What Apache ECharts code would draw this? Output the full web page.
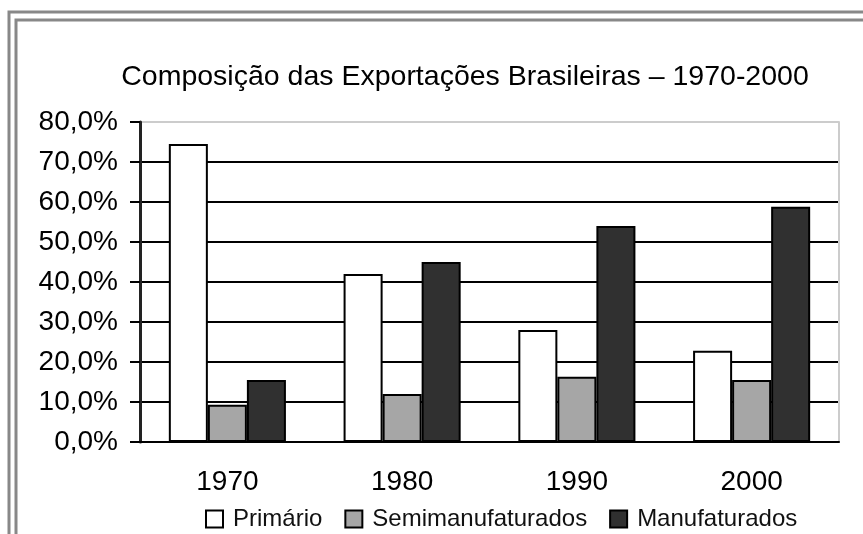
<!DOCTYPE html>
<html>
<head>
<meta charset="utf-8">
<script src="https://cdn.jsdelivr.net/npm/echarts@6/dist/echarts.min.js"></script>
<style>
html,body{margin:0;padding:0;background:#fff;}
#c{width:863px;height:534px;}
</style>
</head>
<body>
<div id="c"></div>
<script>
const categories = ['1970', '1980', '1990', '2000'];
const primario = [74.5, 42.0, 28.0, 22.8];
const semimanufaturados = [9.3, 12.0, 16.3, 15.5];
const manufaturados = [15.5, 45.0, 54.0, 58.8];
const yTicks = [0, 10, 20, 30, 40, 50, 60, 70, 80];
const titleText = 'Composição das Exportações Brasileiras – 1970-2000';

const font = '"Liberation Sans", Arial, sans-serif';
const chart = echarts.init(document.getElementById('c'), null, {renderer: 'canvas'});

const barStyle = (fill) => ({color: fill, borderColor: '#000', borderWidth: 2});

chart.setOption({
  animation: false,
  backgroundColor: '#fff',
  title: {
    text: titleText, left: 460, top: 58, textAlign: 'center',
    textStyle: {fontFamily: font, fontSize: 28.5, fontWeight: 'normal', color: '#000'}
  },
  legend: {
    top: 502, left: 200, padding: 5,
    itemWidth: 17, itemHeight: 17, itemGap: 22,
    textStyle: {fontFamily: font, fontSize: 24, color: '#111', padding: [0, 0, 0, 5]},
    data: [
      {name: 'Primário', icon: 'rect', itemStyle: {color: '#fff', borderColor: '#000', borderWidth: 2}},
      {name: 'Semimanufaturados', icon: 'rect', itemStyle: {color: '#a6a6a6', borderColor: '#000', borderWidth: 2}},
      {name: 'Manufaturados', icon: 'rect', itemStyle: {color: '#303030', borderColor: '#000', borderWidth: 2}}
    ]
  },
  grid: {left: 140, right: 24, top: 122, bottom: 92, containLabel: false},
  xAxis: {
    type: 'category', data: categories,
    axisLine: {lineStyle: {color: '#000', width: 2}},
    axisTick: {length: 7, lineStyle: {color: '#000', width: 2}},
    axisLabel: {fontFamily: font, fontSize: 28, color: '#000', margin: 26}
  },
  yAxis: [{
    type: 'value', min: 0, max: 80, interval: 10,
    axisLine: {show: true, lineStyle: {color: '#222', width: 3}},
    axisTick: {show: true, length: 10, lineStyle: {color: '#000', width: 2}},
    axisLabel: {fontFamily: font, fontSize: 28, color: '#000', margin: 22,
      formatter: v => v.toFixed(1).replace('.', ',') + '%'},
    splitLine: {lineStyle: {color: ['#000','#000','#000','#000','#000','#000','#000','#000','#ccc'], width: 2}}
  }, {
    type: 'value', min: 0, max: 80, interval: 10, position: 'right',
    axisLine: {show: true, lineStyle: {color: '#ccc', width: 2}},
    axisTick: {show: false}, axisLabel: {show: false}, splitLine: {show: false}
  }],
  series: [
    {name: 'Primário', type: 'bar', data: primario, barGap: '0%', barCategoryGap: '33%', itemStyle: barStyle('#fff')},
    {name: 'Semimanufaturados', type: 'bar', data: semimanufaturados, itemStyle: barStyle('#a6a6a6')},
    {name: 'Manufaturados', type: 'bar', data: manufaturados, itemStyle: barStyle('#303030')}
  ],
  graphic: [
    {type: 'polyline', shape: {points: [[9, 534], [9, 12], [863, 12]]}, style: {stroke: '#888', lineWidth: 3, fill: null}},
    {type: 'polyline', shape: {points: [[16, 534], [16, 20], [863, 20]]}, style: {stroke: '#888', lineWidth: 3, fill: null}}
  ]
});
</script>
</body>
</html>
